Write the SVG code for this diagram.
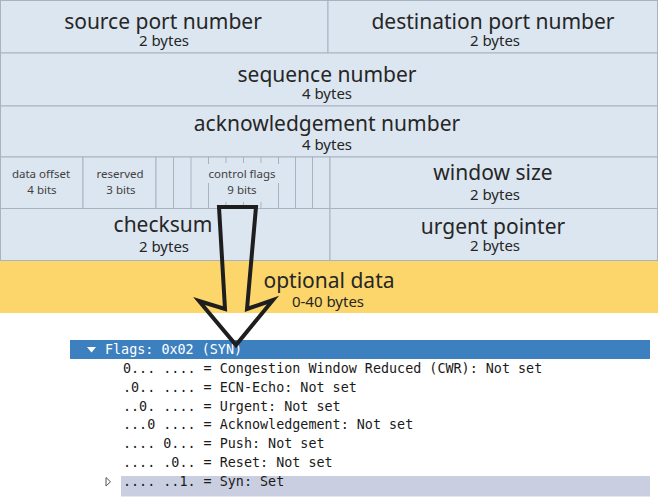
<svg xmlns="http://www.w3.org/2000/svg" width="658" height="500" viewBox="0 0 658 500">
<style>
.cell{fill:#dce6f1;stroke:#a9b3c0;stroke-width:1}
.sep{stroke:#a9b3c0;stroke-width:1}
.big{font-family:"Noto Sans","Open Sans",sans-serif;font-size:21px;fill:#262626;text-anchor:middle}
.sub{font-family:"Noto Sans","Open Sans",sans-serif;font-size:15px;fill:#262626;text-anchor:middle}
.tiny{font-family:"Noto Sans","Open Sans",sans-serif;font-size:11.5px;fill:#404040;text-anchor:middle}
.mono{font-family:"DejaVu Sans Mono","Liberation Mono",monospace;font-size:13.4px;fill:#1a1a1a}
</style>
<rect x="0" y="0" width="658" height="500" fill="#ffffff"/>
<g id="source-port">
<rect class="cell" x="0.5" y="0.5" width="327.5" height="52.5"/>
<text class="big" x="163" y="29">source port number</text>
<text class="sub" x="164" y="45.5">2 bytes</text>
</g>
<g id="destination-port">
<rect class="cell" x="328" y="0.5" width="329.5" height="52.5"/>
<text class="big" x="493" y="28.5">destination port number</text>
<text class="sub" x="495" y="45.5">2 bytes</text>
</g>
<g id="sequence-number">
<rect class="cell" x="0.5" y="53" width="657" height="53"/>
<text class="big" x="327" y="81.5">sequence number</text>
<text class="sub" x="327" y="99">4 bytes</text>
</g>
<g id="acknowledgement-number">
<rect class="cell" x="0.5" y="106" width="657" height="51"/>
<text class="big" x="327" y="131">acknowledgement number</text>
<text class="sub" x="327" y="150">4 bytes</text>
</g>
<g id="data-offset">
<rect class="cell" x="0.5" y="157" width="82.5" height="51.5"/>
<text class="tiny" x="41" y="178">data offset</text>
<text class="tiny" x="42" y="194">4 bits</text>
</g>
<g id="reserved">
<rect class="cell" x="83" y="157" width="73" height="51.5"/>
<text class="tiny" x="120" y="178">reserved</text>
<text class="tiny" x="121" y="194">3 bits</text>
</g>
<g id="control-flags">
<rect class="cell" x="156" y="157" width="174" height="51.5"/>
<line class="sep" x1="173.5" y1="157" x2="173.5" y2="208.5"/>
<line class="sep" x1="191" y1="157" x2="191" y2="208.5"/>
<line class="sep" x1="208.5" y1="157" x2="208.5" y2="164"/>
<line class="sep" x1="208.5" y1="183" x2="208.5" y2="208.5"/>
<line class="sep" x1="226" y1="157" x2="226" y2="163"/>
<line class="sep" x1="226" y1="202" x2="226" y2="208.5"/>
<line class="sep" x1="243.5" y1="157" x2="243.5" y2="163"/>
<line class="sep" x1="243.5" y1="202" x2="243.5" y2="208.5"/>
<line class="sep" x1="261" y1="157" x2="261" y2="163"/>
<line class="sep" x1="261" y1="202" x2="261" y2="208.5"/>
<line class="sep" x1="278.5" y1="157" x2="278.5" y2="164"/>
<line class="sep" x1="278.5" y1="183" x2="278.5" y2="208.5"/>
<line class="sep" x1="295.5" y1="157" x2="295.5" y2="208.5"/>
<line class="sep" x1="312.5" y1="157" x2="312.5" y2="208.5"/>
<text class="tiny" x="242" y="178">control flags</text>
<text class="tiny" x="242" y="194">9 bits</text>
</g>
<g id="window-size">
<rect class="cell" x="330" y="157" width="327.5" height="51.5"/>
<text class="big" x="493" y="180">window size</text>
<text class="sub" x="495" y="200">2 bytes</text>
</g>
<g id="checksum">
<rect class="cell" x="0.5" y="208.5" width="329.5" height="52"/>
<text class="big" x="163" y="231.5">checksum</text>
<text class="sub" x="164" y="251.5">2 bytes</text>
</g>
<g id="urgent-pointer">
<rect class="cell" x="330" y="208.5" width="327.5" height="52"/>
<text class="big" x="493" y="234">urgent pointer</text>
<text class="sub" x="495" y="251">2 bytes</text>
</g>
<g id="optional-data">
<rect x="0" y="261" width="658" height="52" fill="#fcd66a"/>
<text class="big" x="329" y="287.5">optional data</text>
<text class="sub" x="328" y="306.5">0-40 bytes</text>
</g>
<g id="flags-header">
<rect x="70" y="340" width="580" height="19" fill="#3d80c0"/>
<polygon points="87,347 96,347 91.5,352.5" fill="#ffffff"/>
<text class="mono" x="105" y="354" style="fill:#ffffff">Flags: 0x02 (SYN)</text>
</g>
<g id="flag-bits">
<text class="mono" x="123" y="373.3">0... .... = Congestion Window Reduced (CWR): Not set</text>
<text class="mono" x="123" y="392.3">.0.. .... = ECN-Echo: Not set</text>
<text class="mono" x="123" y="410.5">..0. .... = Urgent: Not set</text>
<text class="mono" x="123" y="429.3">...0 .... = Acknowledgement: Not set</text>
<text class="mono" x="123" y="448.3">.... 0... = Push: Not set</text>
<text class="mono" x="123" y="467.3">.... .0.. = Reset: Not set</text>
</g>
<g id="syn-row">
<rect x="121" y="476" width="529" height="20.5" fill="#c9cfe0"/>
<polygon points="106,477.5 110.5,481.8 106,486" fill="none" stroke="#555" stroke-width="1"/>
<text class="mono" x="123" y="486.3">.... ..1. = Syn: Set</text>
</g>
<g id="connectors">
<polygon points="219,207 256,207 247,309 273,300 236,345 199,301 225,309" fill="none" stroke="#1e1e1e" stroke-width="4" stroke-linejoin="miter"/>
</g>
</svg>
